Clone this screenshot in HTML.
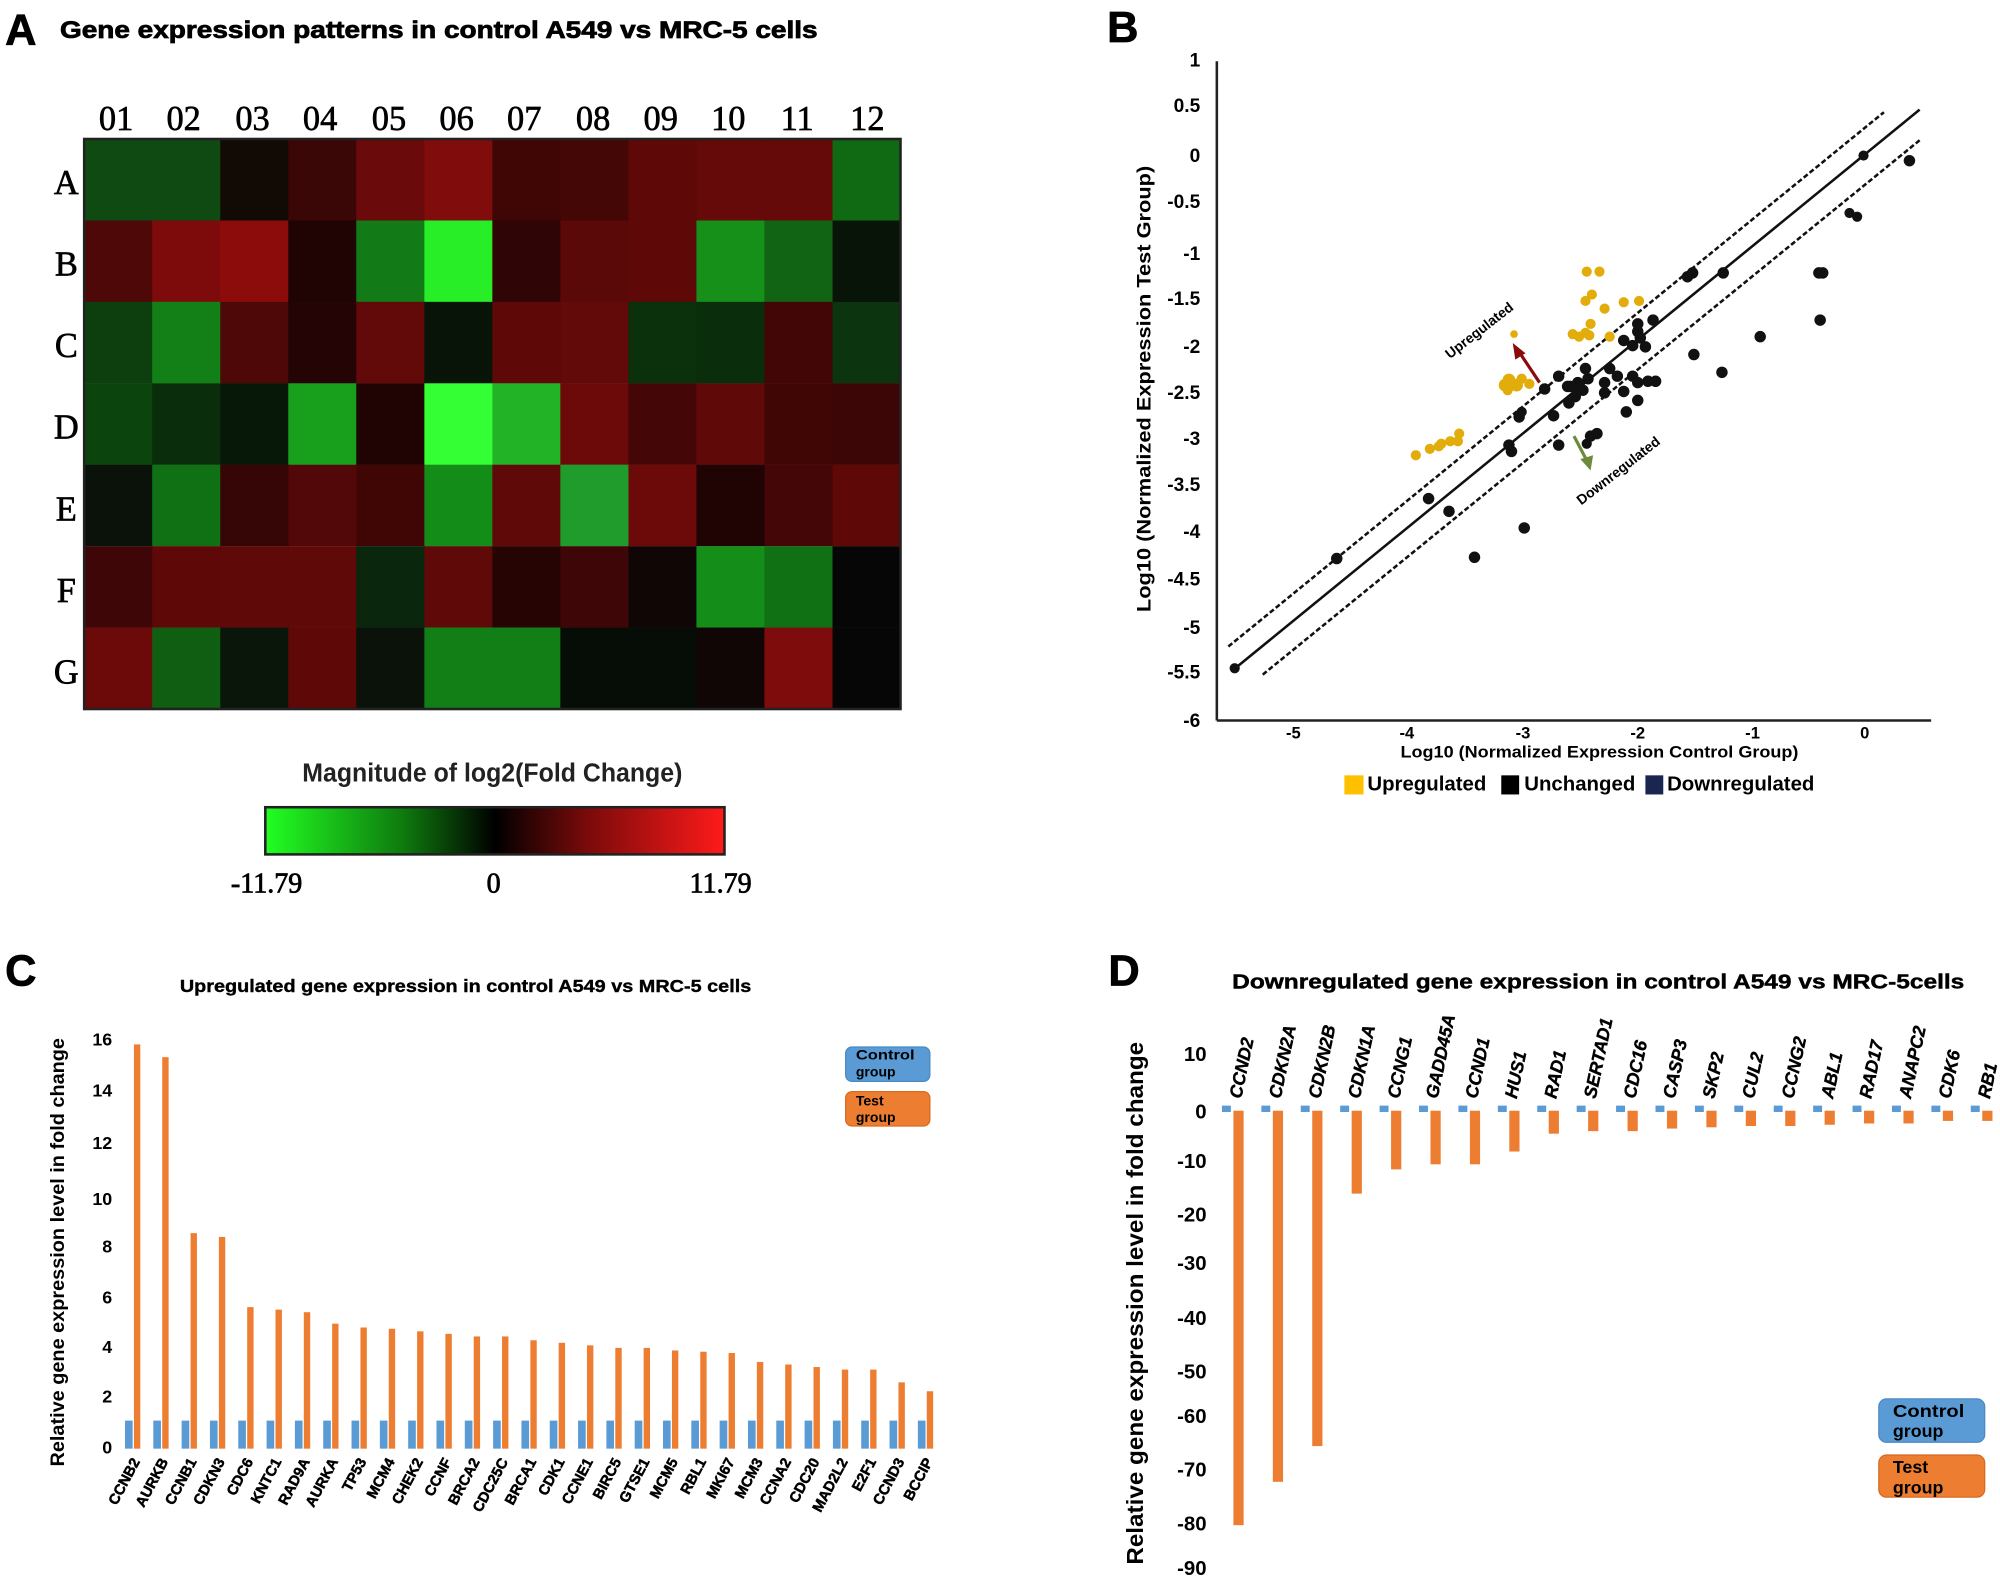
<!DOCTYPE html>
<html><head><meta charset="utf-8"><style>
html,body{margin:0;padding:0;background:#fff;}
svg{display:block;}
text{font-family:"Liberation Sans",sans-serif;font-weight:bold;}
.s{font-family:"Liberation Serif",serif;font-weight:normal;}
.h{stroke:#000;stroke-width:0.6;}
</style></head><body>
<svg width="2000" height="1580" viewBox="0 0 1568 1239" preserveAspectRatio="none" xmlns="http://www.w3.org/2000/svg">
<rect width="1568" height="1239" fill="#fff"/>
<!-- Panel A -->
<text class="h" x="4" y="35" font-size="34">A</text>
<text class="h" x="47" y="30" font-size="19" textLength="594" lengthAdjust="spacingAndGlyphs">Gene expression patterns in control A549 vs MRC-5 cells</text>
<g font-size="27" text-anchor="middle">
<text class="s" x="91" y="102" stroke="#000" stroke-width="0.5">01</text><text class="s" x="144" y="102" stroke="#000" stroke-width="0.5">02</text><text class="s" x="198" y="102" stroke="#000" stroke-width="0.5">03</text><text class="s" x="251" y="102" stroke="#000" stroke-width="0.5">04</text><text class="s" x="305" y="102" stroke="#000" stroke-width="0.5">05</text><text class="s" x="358" y="102" stroke="#000" stroke-width="0.5">06</text><text class="s" x="411" y="102" stroke="#000" stroke-width="0.5">07</text><text class="s" x="465" y="102" stroke="#000" stroke-width="0.5">08</text><text class="s" x="518" y="102" stroke="#000" stroke-width="0.5">09</text><text class="s" x="571" y="102" stroke="#000" stroke-width="0.5">10</text><text class="s" x="625" y="102" stroke="#000" stroke-width="0.5">11</text><text class="s" x="680" y="102" stroke="#000" stroke-width="0.5">12</text>
<text class="s" x="52" y="152" stroke="#000" stroke-width="0.5">A</text><text class="s" x="52" y="216" stroke="#000" stroke-width="0.5">B</text><text class="s" x="52" y="280" stroke="#000" stroke-width="0.5">C</text><text class="s" x="52" y="344" stroke="#000" stroke-width="0.5">D</text><text class="s" x="52" y="408" stroke="#000" stroke-width="0.5">E</text><text class="s" x="52" y="472" stroke="#000" stroke-width="0.5">F</text><text class="s" x="52" y="536" stroke="#000" stroke-width="0.5">G</text>
</g>
<g>
<rect x="66" y="109" width="54" height="64" fill="#0e4a12"/><rect x="119.3" y="109" width="54" height="64" fill="#0e4a12"/><rect x="172.7" y="109" width="54" height="64" fill="#120a04"/><rect x="226" y="109" width="54" height="64" fill="#3a0606"/><rect x="279.3" y="109" width="54" height="64" fill="#6a0a0a"/><rect x="332.7" y="109" width="54" height="64" fill="#800c0c"/><rect x="386" y="109" width="54" height="64" fill="#400606"/><rect x="439.3" y="109" width="54" height="64" fill="#450606"/><rect x="492.7" y="109" width="54" height="64" fill="#5e0808"/><rect x="546" y="109" width="54" height="64" fill="#660909"/><rect x="599.3" y="109" width="54" height="64" fill="#660909"/><rect x="652.7" y="109" width="53.3" height="64" fill="#106a14"/>
<rect x="66" y="172.9" width="54" height="64" fill="#4e0808"/><rect x="119.3" y="172.9" width="54" height="64" fill="#7e0b0b"/><rect x="172.7" y="172.9" width="54" height="64" fill="#8c0c0c"/><rect x="226" y="172.9" width="54" height="64" fill="#200404"/><rect x="279.3" y="172.9" width="54" height="64" fill="#127a16"/><rect x="332.7" y="172.9" width="54" height="64" fill="#28ee28"/><rect x="386" y="172.9" width="54" height="64" fill="#300505"/><rect x="439.3" y="172.9" width="54" height="64" fill="#5a0808"/><rect x="492.7" y="172.9" width="54" height="64" fill="#5e0808"/><rect x="546" y="172.9" width="54" height="64" fill="#169018"/><rect x="599.3" y="172.9" width="54" height="64" fill="#106414"/><rect x="652.7" y="172.9" width="53.3" height="64" fill="#081408"/>
<rect x="66" y="236.7" width="54" height="64" fill="#0c3e0e"/><rect x="119.3" y="236.7" width="54" height="64" fill="#128016"/><rect x="172.7" y="236.7" width="54" height="64" fill="#4e0808"/><rect x="226" y="236.7" width="54" height="64" fill="#240404"/><rect x="279.3" y="236.7" width="54" height="64" fill="#620909"/><rect x="332.7" y="236.7" width="54" height="64" fill="#081408"/><rect x="386" y="236.7" width="54" height="64" fill="#5e0808"/><rect x="439.3" y="236.7" width="54" height="64" fill="#620909"/><rect x="492.7" y="236.7" width="54" height="64" fill="#0a300c"/><rect x="546" y="236.7" width="54" height="64" fill="#0a2e0c"/><rect x="599.3" y="236.7" width="54" height="64" fill="#420606"/><rect x="652.7" y="236.7" width="53.3" height="64" fill="#0c340e"/>
<rect x="66" y="300.6" width="54" height="64" fill="#0c440e"/><rect x="119.3" y="300.6" width="54" height="64" fill="#0a2e0c"/><rect x="172.7" y="300.6" width="54" height="64" fill="#081808"/><rect x="226" y="300.6" width="54" height="64" fill="#18a01c"/><rect x="279.3" y="300.6" width="54" height="64" fill="#200404"/><rect x="332.7" y="300.6" width="54" height="64" fill="#34ff34"/><rect x="386" y="300.6" width="54" height="64" fill="#22b426"/><rect x="439.3" y="300.6" width="54" height="64" fill="#6c0a0a"/><rect x="492.7" y="300.6" width="54" height="64" fill="#440606"/><rect x="546" y="300.6" width="54" height="64" fill="#600909"/><rect x="599.3" y="300.6" width="54" height="64" fill="#400606"/><rect x="652.7" y="300.6" width="53.3" height="64" fill="#3c0606"/>
<rect x="66" y="364.4" width="54" height="64" fill="#0a120a"/><rect x="119.3" y="364.4" width="54" height="64" fill="#107014"/><rect x="172.7" y="364.4" width="54" height="64" fill="#360505"/><rect x="226" y="364.4" width="54" height="64" fill="#520808"/><rect x="279.3" y="364.4" width="54" height="64" fill="#400606"/><rect x="332.7" y="364.4" width="54" height="64" fill="#148c18"/><rect x="386" y="364.4" width="54" height="64" fill="#600909"/><rect x="439.3" y="364.4" width="54" height="64" fill="#1f9c2c"/><rect x="492.7" y="364.4" width="54" height="64" fill="#6c0a0a"/><rect x="546" y="364.4" width="54" height="64" fill="#200303"/><rect x="599.3" y="364.4" width="54" height="64" fill="#440606"/><rect x="652.7" y="364.4" width="53.3" height="64" fill="#5e0808"/>
<rect x="66" y="428.3" width="54" height="64" fill="#3e0606"/><rect x="119.3" y="428.3" width="54" height="64" fill="#5e0808"/><rect x="172.7" y="428.3" width="54" height="64" fill="#600909"/><rect x="226" y="428.3" width="54" height="64" fill="#600909"/><rect x="279.3" y="428.3" width="54" height="64" fill="#0a260c"/><rect x="332.7" y="428.3" width="54" height="64" fill="#600909"/><rect x="386" y="428.3" width="54" height="64" fill="#260404"/><rect x="439.3" y="428.3" width="54" height="64" fill="#3e0606"/><rect x="492.7" y="428.3" width="54" height="64" fill="#100606"/><rect x="546" y="428.3" width="54" height="64" fill="#148e18"/><rect x="599.3" y="428.3" width="54" height="64" fill="#107014"/><rect x="652.7" y="428.3" width="53.3" height="64" fill="#060606"/>
<rect x="66" y="492.1" width="54" height="64" fill="#6c0a0a"/><rect x="119.3" y="492.1" width="54" height="64" fill="#105e12"/><rect x="172.7" y="492.1" width="54" height="64" fill="#0a160a"/><rect x="226" y="492.1" width="54" height="64" fill="#5e0808"/><rect x="279.3" y="492.1" width="54" height="64" fill="#0a120a"/><rect x="332.7" y="492.1" width="54" height="64" fill="#127e16"/><rect x="386" y="492.1" width="54" height="64" fill="#127e16"/><rect x="439.3" y="492.1" width="54" height="64" fill="#060c06"/><rect x="492.7" y="492.1" width="54" height="64" fill="#060c06"/><rect x="546" y="492.1" width="54" height="64" fill="#100606"/><rect x="599.3" y="492.1" width="54" height="64" fill="#7e0c0c"/><rect x="652.7" y="492.1" width="53.3" height="64" fill="#060606"/>
</g>
<rect x="66" y="109" width="640" height="447" fill="none" stroke="#222" stroke-width="2"/>
<text x="386" y="613" font-size="20" text-anchor="middle" textLength="298" lengthAdjust="spacingAndGlyphs" fill="#222">Magnitude of log2(Fold Change)</text>
<defs><linearGradient id="cb" x1="0" x2="1" y1="0" y2="0">
<stop offset="0" stop-color="#22ff22"/><stop offset="0.3" stop-color="#0e7a0e"/><stop offset="0.5" stop-color="#000"/><stop offset="0.7" stop-color="#7a0a0a"/><stop offset="1" stop-color="#ff1a1a"/></linearGradient></defs>
<rect x="208" y="633" width="360" height="37" fill="url(#cb)" stroke="#222" stroke-width="2"/>
<g font-size="22" text-anchor="middle">
<text class="s" x="209" y="700" stroke="#000" stroke-width="0.6">-11.79</text><text class="s" x="387" y="700" stroke="#000" stroke-width="0.6">0</text><text class="s" x="565" y="700" stroke="#000" stroke-width="0.6">11.79</text></g>

<!-- Panel B -->
<text class="h" x="868" y="33" font-size="34">B</text>
<line x1="954" y1="48" x2="954" y2="565" stroke="#222" stroke-width="2"/>
<line x1="954" y1="565" x2="1514" y2="565" stroke="#222" stroke-width="2"/>
<g font-size="15" text-anchor="end">
<text x="941" y="52">1</text><text x="941" y="88">0.5</text><text x="941" y="127">0</text><text x="941" y="163">-0.5</text><text x="941" y="204">-1</text><text x="941" y="239">-1.5</text><text x="941" y="277">-2</text><text x="941" y="313">-2.5</text><text x="941" y="349">-3</text><text x="941" y="385">-3.5</text><text x="941" y="422">-4</text><text x="941" y="459">-4.5</text><text x="941" y="497">-5</text><text x="941" y="532">-5.5</text><text x="941" y="570">-6</text>
</g>
<g font-size="13" text-anchor="middle">
<text x="1014" y="579">-5</text><text x="1103" y="579">-4</text><text x="1194" y="579">-3</text><text x="1284" y="579">-2</text><text x="1374" y="579">-1</text><text x="1462" y="579">0</text>
</g>
<text x="1254" y="594" font-size="13" text-anchor="middle" textLength="312" lengthAdjust="spacingAndGlyphs">Log10 (Normalized Expression  Control Group)</text>
<text transform="translate(902,305) rotate(-90)" font-size="15" text-anchor="middle" textLength="350" lengthAdjust="spacingAndGlyphs">Log10 (Normalized Expression Test Group)</text>
<line x1="966" y1="526" x2="1505" y2="86" stroke="#111" stroke-width="2"/>
<line x1="963" y1="507" x2="1477" y2="88" stroke="#111" stroke-width="2" stroke-dasharray="4,2"/>
<line x1="990" y1="529" x2="1505" y2="110" stroke="#111" stroke-width="2" stroke-dasharray="4,2"/>
<g fill="#e2ad0a">
<circle cx="1110" cy="357" r="4"/><circle cx="1121" cy="352" r="4"/><circle cx="1130" cy="348" r="4"/><circle cx="1137" cy="346" r="4"/><circle cx="1144" cy="340" r="4"/><circle cx="1143" cy="346" r="4"/><circle cx="1128" cy="350" r="4"/><circle cx="1180" cy="302" r="5"/><circle cx="1183" cy="298" r="5"/><circle cx="1189" cy="302" r="5"/><circle cx="1193" cy="297" r="4"/><circle cx="1199" cy="301" r="4"/><circle cx="1182" cy="306" r="4"/><circle cx="1187" cy="262" r="3"/><circle cx="1233" cy="262" r="4"/><circle cx="1238" cy="264" r="4"/><circle cx="1243" cy="261" r="4"/><circle cx="1254" cy="213" r="4"/><circle cx="1244" cy="213" r="4"/><circle cx="1248" cy="231" r="4"/><circle cx="1243" cy="236" r="4"/><circle cx="1247" cy="254" r="4"/><circle cx="1246" cy="263" r="4"/><circle cx="1262" cy="264" r="4"/><circle cx="1273" cy="237" r="4"/><circle cx="1285" cy="236" r="4"/><circle cx="1258" cy="242" r="4"/>
</g>
<g fill="#111">
<circle cx="968" cy="524" r="4"/><circle cx="1048" cy="438" r="4.5"/><circle cx="1120" cy="391" r="4.5"/><circle cx="1136" cy="401" r="4.5"/><circle cx="1156" cy="437" r="4.5"/><circle cx="1195" cy="414" r="4.5"/><circle cx="1183" cy="349" r="4.5"/><circle cx="1185" cy="354" r="4.5"/><circle cx="1191" cy="327" r="4.5"/><circle cx="1193" cy="323" r="4"/><circle cx="1211" cy="305" r="4.5"/><circle cx="1222" cy="295" r="4.5"/><circle cx="1218" cy="326" r="4.5"/><circle cx="1230" cy="316" r="4.5"/><circle cx="1231" cy="303" r="4.5"/><circle cx="1238" cy="305" r="4.5"/><circle cx="1235" cy="311" r="4.5"/><circle cx="1245" cy="297" r="4.5"/><circle cx="1243" cy="289" r="4.5"/><circle cx="1222" cy="349" r="4.5"/><circle cx="1258" cy="300" r="4.5"/><circle cx="1262" cy="289" r="4.5"/><circle cx="1268" cy="295" r="4.5"/><circle cx="1258" cy="308" r="4.5"/><circle cx="1273" cy="307" r="4.5"/><circle cx="1280" cy="295" r="4.5"/><circle cx="1284" cy="300" r="4.5"/><circle cx="1292" cy="299" r="4.5"/><circle cx="1275" cy="323" r="4.5"/><circle cx="1284" cy="314" r="4.5"/><circle cx="1280" cy="271" r="4.5"/><circle cx="1284" cy="254" r="4.5"/><circle cx="1284" cy="260" r="4.5"/><circle cx="1286" cy="265" r="4.5"/><circle cx="1290" cy="272" r="4.5"/><circle cx="1296" cy="251" r="4.5"/><circle cx="1273" cy="267" r="4.5"/><circle cx="1298" cy="299" r="4.5"/><circle cx="1252" cy="340" r="4.5"/><circle cx="1247" cy="342" r="4.5"/><circle cx="1244" cy="348" r="4"/><circle cx="1323" cy="217" r="4.5"/><circle cx="1327" cy="214" r="4.5"/><circle cx="1351" cy="214" r="4.5"/><circle cx="1328" cy="278" r="4.5"/><circle cx="1350" cy="292" r="4.5"/><circle cx="1380" cy="264" r="4.5"/><circle cx="1426" cy="214" r="4.5"/><circle cx="1429" cy="214" r="4.5"/><circle cx="1427" cy="251" r="4.5"/><circle cx="1461" cy="122" r="4"/><circle cx="1450" cy="167" r="4"/><circle cx="1456" cy="170" r="4"/><circle cx="1497" cy="126" r="4.5"/><circle cx="1229" cy="303" r="4.5"/><circle cx="1237" cy="300" r="4.5"/><circle cx="1241" cy="306" r="4.5"/>
</g>
<line x1="1207" y1="300" x2="1191" y2="276" stroke="#8b0a0a" stroke-width="2.5"/>
<polygon points="1186,269 1188,282 1196,277" fill="#8b0a0a"/>
<line x1="1234" y1="342" x2="1244" y2="361" stroke="#6b8b3b" stroke-width="2.5"/>
<polygon points="1247,369 1239,360 1249,357" fill="#6b8b3b"/>
<text transform="translate(1162,262) rotate(-38)" font-size="11" text-anchor="middle">Upregulated</text>
<text transform="translate(1271,372) rotate(-38)" font-size="11" text-anchor="middle">Downregulated</text>
<rect x="1054" y="608" width="15" height="15" fill="#ffc000"/><text x="1072" y="620" font-size="16">Upregulated</text>
<rect x="1177" y="608" width="14" height="15" fill="#000"/><text x="1195" y="620" font-size="16">Unchanged</text>
<rect x="1290" y="608" width="14" height="15" fill="#1a2550"/><text x="1307" y="620" font-size="16">Downregulated</text>

<!-- Panel C -->
<text class="h" x="4" y="773" font-size="34">C</text>
<text class="h" x="365" y="778" font-size="14" text-anchor="middle" textLength="448" lengthAdjust="spacingAndGlyphs" style="stroke-width:0.3">Upregulated gene expression in control A549 vs MRC-5 cells</text>
<g font-size="14" text-anchor="end">
<text x="88" y="820">16</text><text x="88" y="860">14</text><text x="88" y="901">12</text><text x="88" y="945">10</text><text x="88" y="982">8</text><text x="88" y="1022">6</text><text x="88" y="1061">4</text><text x="88" y="1100">2</text><text x="88" y="1140">0</text>
</g>
<text transform="translate(50,982) rotate(-90)" font-size="15" text-anchor="middle" textLength="336" lengthAdjust="spacingAndGlyphs">Relative gene expression level in fold change</text>
<g fill="#5b9bd5">
<rect x="98" y="1114" width="6" height="22"/><rect x="120.2" y="1114" width="6" height="22"/><rect x="142.4" y="1114" width="6" height="22"/><rect x="164.6" y="1114" width="6" height="22"/><rect x="186.8" y="1114" width="6" height="22"/><rect x="209" y="1114" width="6" height="22"/><rect x="231.2" y="1114" width="6" height="22"/><rect x="253.4" y="1114" width="6" height="22"/><rect x="275.6" y="1114" width="6" height="22"/><rect x="297.8" y="1114" width="6" height="22"/><rect x="320" y="1114" width="6" height="22"/><rect x="342.2" y="1114" width="6" height="22"/><rect x="364.4" y="1114" width="6" height="22"/><rect x="386.6" y="1114" width="6" height="22"/><rect x="408.8" y="1114" width="6" height="22"/><rect x="431" y="1114" width="6" height="22"/><rect x="453.2" y="1114" width="6" height="22"/><rect x="475.4" y="1114" width="6" height="22"/><rect x="497.6" y="1114" width="6" height="22"/><rect x="519.8" y="1114" width="6" height="22"/><rect x="542" y="1114" width="6" height="22"/><rect x="564.2" y="1114" width="6" height="22"/><rect x="586.4" y="1114" width="6" height="22"/><rect x="608.6" y="1114" width="6" height="22"/><rect x="630.8" y="1114" width="6" height="22"/><rect x="653" y="1114" width="6" height="22"/><rect x="675.2" y="1114" width="6" height="22"/><rect x="697.4" y="1114" width="6" height="22"/><rect x="719.6" y="1114" width="6" height="22"/>
</g>
<g fill="#ed7d31">
<rect x="105" y="819" width="5" height="317"/><rect x="127.2" y="829" width="5" height="307"/><rect x="149.4" y="967" width="5" height="169"/><rect x="171.6" y="970" width="5" height="166"/><rect x="193.8" y="1025" width="5" height="111"/><rect x="216" y="1027" width="5" height="109"/><rect x="238.2" y="1029" width="5" height="107"/><rect x="260.4" y="1038" width="5" height="98"/><rect x="282.6" y="1041" width="5" height="95"/><rect x="304.8" y="1042" width="5" height="94"/><rect x="327" y="1044" width="5" height="92"/><rect x="349.2" y="1046" width="5" height="90"/><rect x="371.4" y="1048" width="5" height="88"/><rect x="393.6" y="1048" width="5" height="88"/><rect x="415.8" y="1051" width="5" height="85"/><rect x="438" y="1053" width="5" height="83"/><rect x="460.2" y="1055" width="5" height="81"/><rect x="482.4" y="1057" width="5" height="79"/><rect x="504.6" y="1057" width="5" height="79"/><rect x="526.8" y="1059" width="5" height="77"/><rect x="549" y="1060" width="5" height="76"/><rect x="571.2" y="1061" width="5" height="75"/><rect x="593.4" y="1068" width="5" height="68"/><rect x="615.6" y="1070" width="5" height="66"/><rect x="637.8" y="1072" width="5" height="64"/><rect x="660" y="1074" width="5" height="62"/><rect x="682.2" y="1074" width="5" height="62"/><rect x="704.4" y="1084" width="5" height="52"/><rect x="726.6" y="1091" width="5" height="45"/>
</g>
<g font-size="11.5" text-anchor="end" stroke="#000" stroke-width="0.4">
<text transform="translate(110,1146) rotate(-62)">CCNB2</text><text transform="translate(132.2,1146) rotate(-62)">AURKB</text><text transform="translate(154.4,1146) rotate(-62)">CCNB1</text><text transform="translate(176.6,1146) rotate(-62)">CDKN3</text><text transform="translate(198.8,1146) rotate(-62)">CDC6</text><text transform="translate(221,1146) rotate(-62)">KNTC1</text><text transform="translate(243.2,1146) rotate(-62)">RAD9A</text><text transform="translate(265.4,1146) rotate(-62)">AURKA</text><text transform="translate(287.6,1146) rotate(-62)">TP53</text><text transform="translate(309.8,1146) rotate(-62)">MCM4</text><text transform="translate(332,1146) rotate(-62)">CHEK2</text><text transform="translate(354.2,1146) rotate(-62)">CCNF</text><text transform="translate(376.4,1146) rotate(-62)">BRCA2</text><text transform="translate(398.6,1146) rotate(-62)">CDC25C</text><text transform="translate(420.8,1146) rotate(-62)">BRCA1</text><text transform="translate(443,1146) rotate(-62)">CDK1</text><text transform="translate(465.2,1146) rotate(-62)">CCNE1</text><text transform="translate(487.4,1146) rotate(-62)">BIRC5</text><text transform="translate(509.6,1146) rotate(-62)">GTSE1</text><text transform="translate(531.8,1146) rotate(-62)">MCM5</text><text transform="translate(554,1146) rotate(-62)">RBL1</text><text transform="translate(576.2,1146) rotate(-62)">MKI67</text><text transform="translate(598.4,1146) rotate(-62)">MCM3</text><text transform="translate(620.6,1146) rotate(-62)">CCNA2</text><text transform="translate(642.8,1146) rotate(-62)">CDC20</text><text transform="translate(665,1146) rotate(-62)">MAD2L2</text><text transform="translate(687.2,1146) rotate(-62)">E2F1</text><text transform="translate(709.4,1146) rotate(-62)">CCND3</text><text transform="translate(731.6,1146) rotate(-62)">BCCIP</text>
</g>
<rect x="663" y="821" width="66" height="27" rx="5" fill="#5b9bd5" stroke="#4a8ac4"/>
<text x="671" y="831" font-size="11" textLength="46" lengthAdjust="spacingAndGlyphs">Control</text><text x="671" y="844" font-size="11">group</text>
<rect x="663" y="856" width="66" height="27" rx="5" fill="#ed7d31" stroke="#d86a20"/>
<text x="671" y="867" font-size="11">Test</text><text x="671" y="880" font-size="11">group</text>

<!-- Panel D -->
<text class="h" x="869" y="773" font-size="34">D</text>
<text class="h" x="1253" y="775" font-size="16" text-anchor="middle" textLength="574" lengthAdjust="spacingAndGlyphs" style="stroke-width:0.35">Downregulated gene expression in control A549 vs MRC-5cells</text>
<g font-size="16" text-anchor="end">
<text x="946" y="832">10</text><text x="946" y="877">0</text><text x="946" y="916">-10</text><text x="946" y="958">-20</text><text x="946" y="996">-30</text><text x="946" y="1039">-40</text><text x="946" y="1081">-50</text><text x="946" y="1116">-60</text><text x="946" y="1158">-70</text><text x="946" y="1200">-80</text><text x="946" y="1235">-90</text>
</g>
<text transform="translate(896,1022) rotate(-90)" font-size="18" text-anchor="middle" textLength="410" lengthAdjust="spacingAndGlyphs">Relative gene expression level in fold change</text>
<g fill="#5b9bd5">
<rect x="958" y="867" width="7" height="5"/><rect x="988.9" y="867" width="7" height="5"/><rect x="1019.8" y="867" width="7" height="5"/><rect x="1050.7" y="867" width="7" height="5"/><rect x="1081.6" y="867" width="7" height="5"/><rect x="1112.5" y="867" width="7" height="5"/><rect x="1143.4" y="867" width="7" height="5"/><rect x="1174.3" y="867" width="7" height="5"/><rect x="1205.2" y="867" width="7" height="5"/><rect x="1236.1" y="867" width="7" height="5"/><rect x="1267" y="867" width="7" height="5"/><rect x="1297.9" y="867" width="7" height="5"/><rect x="1328.8" y="867" width="7" height="5"/><rect x="1359.7" y="867" width="7" height="5"/><rect x="1390.6" y="867" width="7" height="5"/><rect x="1421.5" y="867" width="7" height="5"/><rect x="1452.4" y="867" width="7" height="5"/><rect x="1483.3" y="867" width="7" height="5"/><rect x="1514.2" y="867" width="7" height="5"/><rect x="1545.1" y="867" width="7" height="5"/>
</g>
<g fill="#ed7d31">
<rect x="967" y="871" width="8" height="325"/><rect x="997.9" y="871" width="8" height="291"/><rect x="1028.8" y="871" width="8" height="263"/><rect x="1059.7" y="871" width="8" height="65"/><rect x="1090.6" y="871" width="8" height="46"/><rect x="1121.5" y="871" width="8" height="42"/><rect x="1152.4" y="871" width="8" height="42"/><rect x="1183.3" y="871" width="8" height="32"/><rect x="1214.2" y="871" width="8" height="18"/><rect x="1245.1" y="871" width="8" height="16"/><rect x="1276" y="871" width="8" height="16"/><rect x="1306.9" y="871" width="8" height="14"/><rect x="1337.8" y="871" width="8" height="13"/><rect x="1368.7" y="871" width="8" height="12"/><rect x="1399.6" y="871" width="8" height="12"/><rect x="1430.5" y="871" width="8" height="11"/><rect x="1461.4" y="871" width="8" height="10"/><rect x="1492.3" y="871" width="8" height="10"/><rect x="1523.2" y="871" width="8" height="8"/><rect x="1554.1" y="871" width="8" height="8"/>
</g>
<g font-size="14" font-style="italic" stroke="#000" stroke-width="0.3">
<text transform="translate(973,862) rotate(-78)">CCND2</text><text transform="translate(1004,862) rotate(-78)">CDKN2A</text><text transform="translate(1035,862) rotate(-78)">CDKN2B</text><text transform="translate(1066,862) rotate(-78)">CDKN1A</text><text transform="translate(1097,862) rotate(-78)">CCNG1</text><text transform="translate(1127,862) rotate(-78)">GADD45A</text><text transform="translate(1158,862) rotate(-78)">CCND1</text><text transform="translate(1189,862) rotate(-78)">HUS1</text><text transform="translate(1220,862) rotate(-78)">RAD1</text><text transform="translate(1251,862) rotate(-78)">SERTAD1</text><text transform="translate(1282,862) rotate(-78)">CDC16</text><text transform="translate(1313,862) rotate(-78)">CASP3</text><text transform="translate(1344,862) rotate(-78)">SKP2</text><text transform="translate(1375,862) rotate(-78)">CUL2</text><text transform="translate(1406,862) rotate(-78)">CCNG2</text><text transform="translate(1437,862) rotate(-78)">ABL1</text><text transform="translate(1467,862) rotate(-78)">RAD17</text><text transform="translate(1498,862) rotate(-78)">ANAPC2</text><text transform="translate(1529,862) rotate(-78)">CDK6</text><text transform="translate(1560,862) rotate(-78)">RB1</text>
</g>
<rect x="1473" y="1097" width="83" height="34" rx="6" fill="#5b9bd5" stroke="#4a8ac4"/>
<text x="1484" y="1111" font-size="14" textLength="56" lengthAdjust="spacingAndGlyphs">Control</text><text x="1484" y="1127" font-size="14">group</text>
<rect x="1473" y="1141" width="83" height="33" rx="6" fill="#ed7d31" stroke="#d86a20"/>
<text x="1484" y="1155" font-size="14">Test</text><text x="1484" y="1171" font-size="14">group</text>
</svg>
</body></html>
